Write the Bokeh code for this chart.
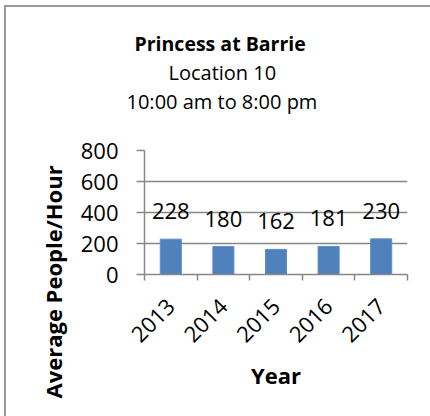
import math
from bokeh.plotting import figure
from bokeh.models import (FactorRange, Range1d, LinearAxis, FixedTicker, Title,
                          LabelSet, ColumnDataSource)
from bokeh.core.properties import value
from bokeh.embed import file_html
from bokeh.resources import INLINE

# ---- data ----
years = ["2013", "2014", "2015", "2016", "2017"]
people_per_hour = [228, 180, 162, 181, 230]
y_ticks = [0, 200, 400, 600, 800]
title_lines = ["Princess at Barrie", "Location 10", "10:00 am to 8:00 pm"]
x_title = "Year"
y_title = "Average People/Hour"

# ---- style ----
GRAY = "#878787"
FRAME = "#9a9a9a"
BAR = "#4F81BD"
FONT = "Open Sans"
TICK_FS = "22px"
W, H = 424, 409

src = ColumnDataSource(dict(year=years, value=people_per_hour,
                            label=[str(v) for v in people_per_hour]))

p = figure(width=W, height=H,
           x_range=FactorRange(*years, range_padding=0),
           y_range=Range1d(y_ticks[0], y_ticks[-1]),
           output_backend="svg", toolbar_location=None, title_location=None,
           min_border_left=138, min_border_right=25,
           min_border_top=143, min_border_bottom=144,
           styles={
               "box-sizing": "content-box",
               "margin-left": "4px",
               "margin-top": "5px",
               "border-left": f"2px solid {FRAME}",
               "border-top": f"2px solid {FRAME}",
           })
p.outline_line_color = None
p.background_fill_color = "white"
p.border_fill_color = "white"

p.vbar(x="year", top="value", width=0.4, source=src,
       fill_color=BAR, line_color="#5B8DC8", line_width=1)

# data labels
p.add_layout(LabelSet(x="year", y="value", text="label", source=src,
                      y_offset=20, text_align="center",
                      text_baseline="alphabetic",
                      text_font=value(FONT), text_font_size=TICK_FS,
                      text_color="black"))

# grid
p.xgrid.visible = False
p.ygrid.ticker = FixedTicker(ticks=y_ticks)
p.ygrid.grid_line_color = GRAY
p.ygrid.grid_line_width = 1.5

# y axis
ya = p.yaxis[0]
ya.ticker = FixedTicker(ticks=y_ticks)
ya.axis_line_color = GRAY
ya.axis_line_width = 1.5
ya.major_tick_line_color = GRAY
ya.major_tick_line_width = 1.5
ya.major_tick_out = 8
ya.major_tick_in = 0
ya.minor_tick_out = 0
ya.minor_tick_in = 0
ya.major_label_standoff = 18
ya.major_label_text_font = FONT
ya.major_label_text_font_size = TICK_FS
ya.major_label_text_color = "black"

# categorical x axis (labels only)
xa = p.xaxis[0]
xa.axis_line_color = None
xa.major_tick_out = 0
xa.major_tick_in = 0
xa.major_label_orientation = math.pi / 4
xa.major_label_standoff = 22
xa.major_label_text_font = FONT
xa.major_label_text_font_size = TICK_FS
xa.major_label_text_color = "black"
xa.axis_label = x_title
xa.axis_label_standoff = 8
xa.axis_label_text_font = FONT
xa.axis_label_text_font_size = "22px"
xa.axis_label_text_font_style = "bold"
xa.axis_label_text_color = "black"

# boundary tick marks between categories (Excel style), no labels drawn
tick_axis = LinearAxis(ticker=FixedTicker(ticks=list(range(len(years) + 1)),
                                          minor_ticks=[]),
                       axis_line_color=GRAY, axis_line_width=1.5,
                       major_tick_line_color=GRAY, major_tick_line_width=1.5,
                       major_tick_out=6, major_tick_in=0,
                       minor_tick_out=0, minor_tick_in=0,
                       major_label_text_color=None,
                       major_label_text_font_size="1px",
                       major_label_standoff=0)
p.below = [tick_axis, xa]

# invisible spacer between plot area and the title block
spacer = LinearAxis(ticker=FixedTicker(ticks=[len(years) / 2], minor_ticks=[]),
                    axis_line_color=None, major_tick_line_color=None,
                    major_tick_out=36, major_tick_in=0,
                    minor_tick_out=0, minor_tick_in=0,
                    major_label_text_color=None,
                    major_label_text_font_size="1px",
                    major_label_standoff=0)

# title lines (left aligned with offsets so the block is centred like the original)
offsets = [-10, 24, -18]
sizes = ["19.5px", "20px", "20px"]
titles = []
for i, t in enumerate(title_lines):
    titles.append(Title(text=t, align="left", offset=offsets[i], standoff=0,
                        vertical_align="bottom",
                        text_font=FONT, text_font_size=sizes[i],
                        text_font_style="bold" if i == 0 else "normal",
                        text_color="black"))
p.above = [spacer] + titles[::-1]

# y axis title
ytitle = Title(text=y_title, align="left", offset=-124, standoff=20,
               vertical_align="bottom", text_font=FONT, text_font_size="22px",
               text_font_style="bold", text_color="black")
p.left = [ya, ytitle]

open("out.html", "w").write(file_html(p, INLINE))
